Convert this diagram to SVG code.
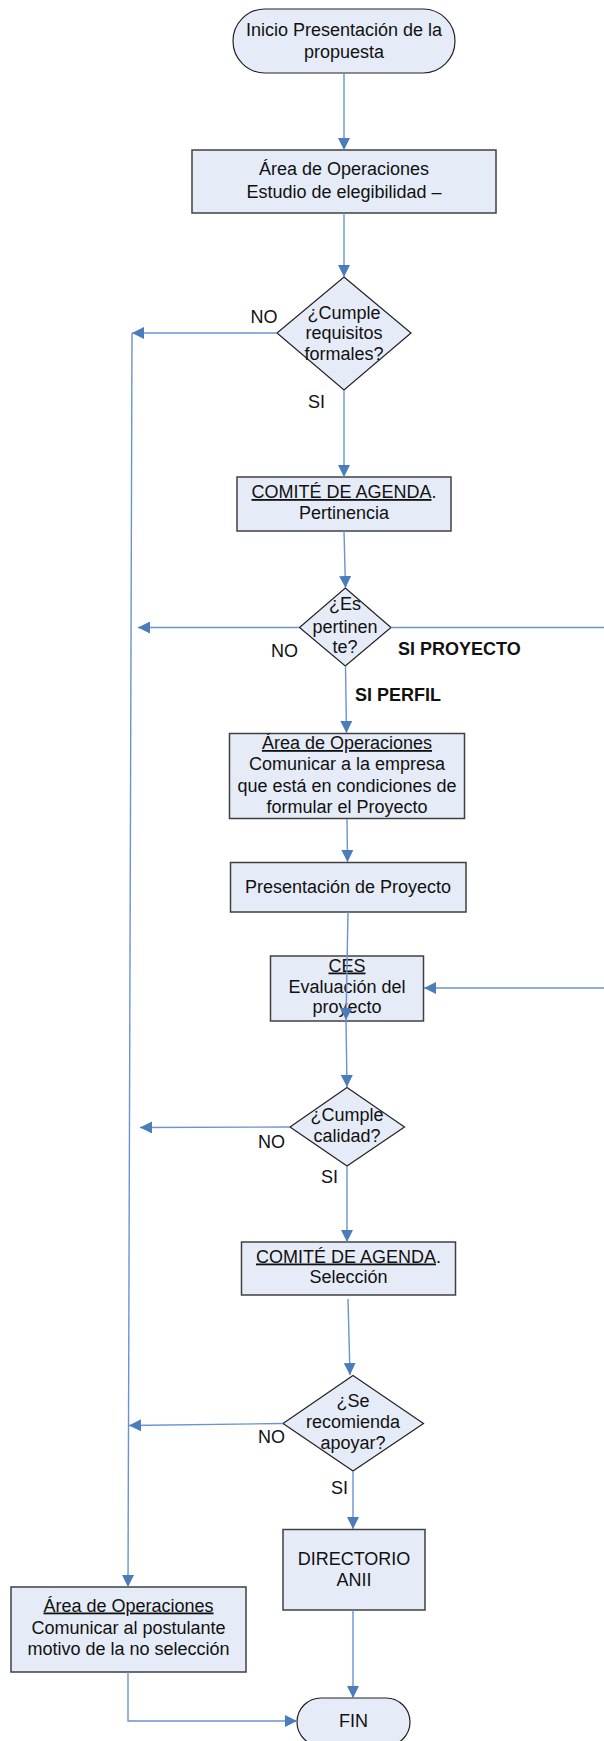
<svg xmlns="http://www.w3.org/2000/svg" width="604" height="1741" viewBox="0 0 604 1741">
<style>
text{font-family:"Liberation Sans",Arial,sans-serif;font-size:18px;fill:#111}
.c{text-anchor:middle}
.b{font-weight:bold}
.u{text-decoration:underline}
.box{fill:#e6ecf7;stroke:#404040;stroke-width:1.5}
.term{fill:#e6ecf7;stroke:#222;stroke-width:1.2}
.dia{fill:#e6ecf7;stroke:#222;stroke-width:1.2}
.ln{fill:none;stroke:#6a93cf;stroke-width:1.4}
</style>
<defs>
<marker id="ah" markerUnits="userSpaceOnUse" markerWidth="12" markerHeight="12" refX="12" refY="6" orient="auto">
<path d="M0,0 L12,6 L0,12 z" fill="#4a7ebb"/>
</marker>
</defs>
<rect width="604" height="1741" fill="#fff"/>
<g id="labels">
<text x="264" y="323" class="c">NO</text>
<text x="308" y="408">SI</text>
<text x="271" y="657">NO</text>
<text x="398" y="655" class="b">SI PROYECTO</text>
<text x="355" y="701" class="b">SI PERFIL</text>
<text x="258" y="1147.5">NO</text>
<text x="321" y="1183">SI</text>
<text x="258" y="1442.5">NO</text>
<text x="331" y="1494">SI</text>
</g>
<g id="start">
<rect class="term" x="233" y="9" width="222" height="64" rx="32"/>
<text x="344" y="36" class="c">Inicio Presentación de la</text>
<text x="344" y="58" class="c">propuesta</text>
</g>
<g id="estudio">
<rect class="box" x="192" y="150" width="304" height="63"/>
<text x="344" y="175" class="c">Área de Operaciones</text>
<text x="344" y="198" class="c">Estudio de elegibilidad –</text>
</g>
<g id="d-requisitos">
<polygon class="dia" points="344,277 411,333 344,390 277,333"/>
<text x="344" y="319" class="c">¿Cumple</text>
<text x="344" y="339" class="c">requisitos</text>
<text x="344" y="360" class="c">formales?</text>
</g>
<g id="comite1">
<rect class="box" x="237" y="477" width="214" height="54"/>
<text x="344" y="498" class="c"><tspan class="u">COMITÉ DE AGENDA</tspan>.</text>
<text x="344" y="519" class="c">Pertinencia</text>
</g>
<g id="d-pertinente">
<polygon class="dia" points="345.3,588 391,627.5 345.3,666 299.5,627.5"/>
<text x="345" y="610" class="c">¿Es</text>
<text x="345" y="633" class="c">pertinen</text>
<text x="345" y="653" class="c">te?</text>
</g>
<g id="comunicar-empresa">
<rect class="box" x="229.5" y="733.5" width="235" height="85"/>
<text x="347" y="749" class="c"><tspan class="u">Área de Operaciones</tspan></text>
<text x="347" y="770" class="c">Comunicar a la empresa</text>
<text x="347" y="791.5" class="c">que está en condiciones de</text>
<text x="347" y="812.5" class="c">formular el Proyecto</text>
</g>
<g id="presentacion">
<rect class="box" x="230.5" y="862.5" width="235.5" height="49.5"/>
<text x="348" y="892.5" class="c">Presentación de Proyecto</text>
</g>
<g id="ces">
<rect class="box" x="270.5" y="956" width="153" height="65"/>
<text x="347" y="971.5" class="c"><tspan class="u">CES</tspan></text>
<text x="347" y="993" class="c">Evaluación del</text>
<text x="347" y="1013" class="c">proyecto</text>
</g>
<g id="d-calidad">
<polygon class="dia" points="347,1087.5 404.5,1127 347,1166 290,1127"/>
<text x="347" y="1121" class="c">¿Cumple</text>
<text x="347" y="1142" class="c">calidad?</text>
</g>
<g id="comite2">
<rect class="box" x="241.5" y="1242" width="214" height="53"/>
<text x="348.5" y="1262.5" class="c"><tspan class="u">COMITÉ DE AGENDA</tspan>.</text>
<text x="348.5" y="1283" class="c">Selección</text>
</g>
<g id="d-apoyar">
<polygon class="dia" points="353,1375.5 423.5,1423.5 353,1471 283,1423.5"/>
<text x="353" y="1406.5" class="c">¿Se</text>
<text x="353" y="1428" class="c">recomienda</text>
<text x="353" y="1449" class="c">apoyar?</text>
</g>
<g id="directorio">
<rect class="box" x="283" y="1529.5" width="142" height="80.5"/>
<text x="354" y="1565" class="c">DIRECTORIO</text>
<text x="354" y="1585.5" class="c">ANII</text>
</g>
<g id="comunicar-postulante">
<rect class="box" x="11" y="1587" width="235" height="85"/>
<text x="128.5" y="1611.5" class="c"><tspan class="u">Área de Operaciones</tspan></text>
<text x="128.5" y="1634" class="c">Comunicar al postulante</text>
<text x="128.5" y="1655" class="c">motivo de la no selección</text>
</g>
<g id="fin">
<rect class="term" x="297" y="1698" width="113" height="48" rx="24"/>
<text x="353.5" y="1727" class="c">FIN</text>
</g>
<g id="connectors">
<line class="ln" x1="344" y1="73" x2="344" y2="150" marker-end="url(#ah)"/>
<line class="ln" x1="344" y1="213" x2="344" y2="277" marker-end="url(#ah)"/>
<line class="ln" x1="277" y1="333" x2="132" y2="333" marker-end="url(#ah)"/>
<line class="ln" x1="132" y1="333" x2="128" y2="1587" marker-end="url(#ah)"/>
<line class="ln" x1="344" y1="390" x2="344" y2="477" marker-end="url(#ah)"/>
<line class="ln" x1="344" y1="531" x2="345.5" y2="588" marker-end="url(#ah)"/>
<line class="ln" x1="299" y1="627.5" x2="138" y2="627.5" marker-end="url(#ah)"/>
<line class="ln" x1="391" y1="627.5" x2="606" y2="627.5"/>
<line class="ln" x1="345.5" y1="666" x2="346.5" y2="733" marker-end="url(#ah)"/>
<line class="ln" x1="347" y1="819" x2="347.5" y2="862" marker-end="url(#ah)"/>
<line class="ln" x1="348" y1="912" x2="346" y2="1020" marker-end="url(#ah)"/>
<line class="ln" x1="346" y1="1020" x2="347" y2="1087" marker-end="url(#ah)"/>
<line class="ln" x1="606" y1="988" x2="424" y2="988" marker-end="url(#ah)"/>
<line class="ln" x1="290" y1="1127" x2="140" y2="1127.5" marker-end="url(#ah)"/>
<line class="ln" x1="347" y1="1166" x2="347" y2="1242" marker-end="url(#ah)"/>
<line class="ln" x1="348" y1="1299" x2="350" y2="1375" marker-end="url(#ah)"/>
<line class="ln" x1="283" y1="1423.5" x2="129" y2="1425.5" marker-end="url(#ah)"/>
<line class="ln" x1="353" y1="1471" x2="353" y2="1529" marker-end="url(#ah)"/>
<line class="ln" x1="353" y1="1610" x2="353" y2="1698" marker-end="url(#ah)"/>
<polyline class="ln" points="128,1672 128,1721 297,1721" marker-end="url(#ah)"/>
</g>
</svg>
